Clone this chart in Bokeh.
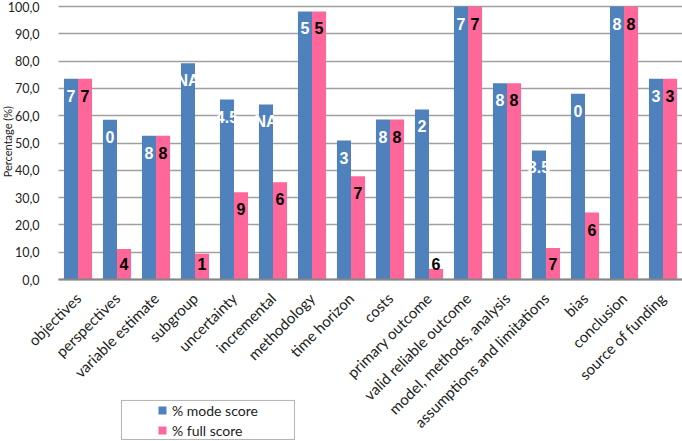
import math
from bokeh.plotting import figure
from bokeh.models import (ColumnDataSource, FixedTicker, Legend, LegendItem,
                          BoxAnnotation, Label, Range1d)
from bokeh.core.properties import value
from bokeh.embed import file_html
from bokeh.resources import INLINE

categories = ["objectives", "perspectives", "variable estimate", "subgroup",
              "uncertainty", "incremental", "methodology", "time horizon",
              "costs", "primary outcome", "valid reliable outcome",
              "model, methods, analysis", "assumptions and limitations",
              "bias", "conclusion", "source of funding"]
mode_score = [73.5, 58.5, 52.7, 79.2, 65.9, 64.1, 98.2, 50.9,
              58.6, 62.3, 100.0, 71.9, 47.3, 68.0, 100.0, 73.5]
full_score = [73.5, 11.2, 52.7, 9.4, 32.0, 35.6, 98.2, 37.8,
              58.6, 3.9, 100.0, 71.9, 11.5, 24.5, 100.0, 73.5]
mode_labels = ["7", "0", "8", "NA", "4.5", "NA", "5", "3",
               "8", "2", "7", "8", "3.5", "0", "8", "3"]
full_labels = ["7", "4", "8", "1", "9", "6", "5", "7",
               "8", "6", "7", "8", "7", "6", "8", "3"]
y_ticks = [0, 10, 20, 30, 40, 50, 60, 70, 80, 90, 100]

BLUE = "#4F81BD"
PINK = "#FF6699"
FONT = "Lato"

W, H = 682, 441
X0, X1 = -1.487, 16.0          # frame covers the whole canvas
Y0, Y1 = -59.34, 102.2
PX = H / (Y1 - Y0)             # pixels per y unit

n = len(categories)
centers = [i + 0.5 for i in range(n)]
mode_x = [c - 0.18 for c in centers]
full_x = [c + 0.18 for c in centers]
mode_ly = [max(v - 17 / PX, 16 / PX) for v in mode_score]
full_ly = [max(v - 17 / PX, 16 / PX) for v in full_score]

src = ColumnDataSource(dict(mx=mode_x, fx=full_x, mode=mode_score,
                            full=full_score, ml=mode_labels, fl=full_labels,
                            mly=mode_ly, fly=full_ly))

p = figure(x_range=Range1d(X0, X1), y_range=Range1d(Y0, Y1), width=W, height=H,
           output_backend="svg", toolbar_location=None,
           min_border_left=0, min_border_right=0, min_border_top=0,
           min_border_bottom=0)
p.outline_line_color = None
p.background_fill_color = "white"

r1 = p.vbar(x="mx", top="mode", width=0.36, source=src,
            fill_color=BLUE, line_color=None)
r2 = p.vbar(x="fx", top="full", width=0.36, source=src,
            fill_color=PINK, line_color=None)

p.text(x="mx", y="mly", text="ml", source=src,
       text_color="white", text_font=value("Liberation Sans"),
       text_font_style="bold", text_font_size="16px", text_align="center",
       text_baseline="middle")
p.text(x="fx", y="fly", text="fl", source=src,
       text_color="black", text_font=value("Liberation Sans"),
       text_font_style="bold", text_font_size="16px", text_align="center",
       text_baseline="middle")

# grid
p.xgrid.grid_line_color = None
p.ygrid.ticker = FixedTicker(ticks=y_ticks)
p.ygrid.grid_line_color = "#A0A0A0"
p.ygrid.grid_line_width = 1.5
p.ygrid.cross_bounds = (0, n)

# y axis drawn at x = 0
p.yaxis.fixed_location = 0
p.yaxis.ticker = FixedTicker(ticks=y_ticks)
p.yaxis.major_label_overrides = {t: f"{t},0" for t in y_ticks}
p.yaxis.axis_line_color = None
p.yaxis.major_tick_line_color = None
p.yaxis.minor_tick_line_color = None
p.yaxis.major_label_standoff = 13
p.yaxis.major_label_text_font = FONT
p.yaxis.major_label_text_font_size = "12.5px"
p.yaxis.major_label_text_color = "#222222"

# x axis drawn at y = 0
p.xaxis.fixed_location = 0
p.xaxis.bounds = (0, n)
p.xaxis.ticker = FixedTicker(ticks=centers)
p.xaxis.major_label_overrides = {c: name for c, name in zip(centers, categories)}
p.xaxis.axis_line_color = "#868686"
p.xaxis.axis_line_width = 2
p.xaxis.major_tick_line_color = None
p.xaxis.minor_tick_line_color = None
p.xaxis.major_label_orientation = math.pi / 4
p.xaxis.major_label_standoff = 10
p.xaxis.major_label_text_font = FONT
p.xaxis.major_label_text_font_size = "15px"
p.xaxis.major_label_text_color = "#222222"

# y-axis title
p.add_layout(Label(x=-1.30, y=50.5, text="Percentage (%)", angle=math.pi / 2,
                   text_align="center", text_baseline="middle",
                   text_font=FONT, text_font_size="11px", text_color="#222222"))

# legend border box
p.add_layout(BoxAnnotation(left=1.615, right=6.05, top=-44.3, bottom=-58.6,
                           fill_color="white", fill_alpha=1.0,
                           line_color="black", line_width=1))

legend = Legend(items=[LegendItem(label="% mode score", renderers=[r1]),
                       LegendItem(label="% full score", renderers=[r2])],
                location=(157, 1), padding=0, margin=0, spacing=0,
                glyph_width=10, glyph_height=10, label_height=20,
                label_standoff=5, label_text_font=FONT,
                label_text_font_size="14px", label_text_color="#222222",
                border_line_color=None, background_fill_alpha=0)
p.add_layout(legend, "center")

open("out.html", "w").write(file_html(p, INLINE))
